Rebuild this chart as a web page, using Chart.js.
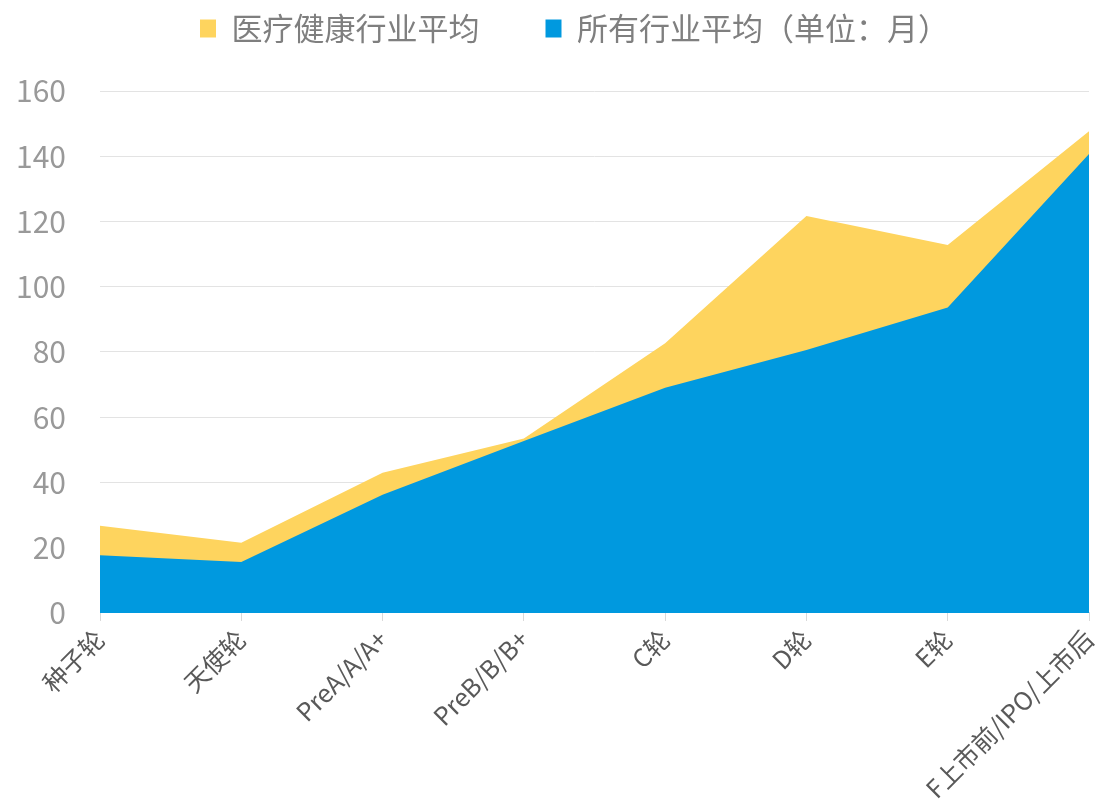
<!DOCTYPE html>
<html>
<head>
<meta charset="utf-8">
<script src="https://cdn.jsdelivr.net/npm/chart.js@4/dist/chart.umd.min.js"></script>
<style>
  html, body { margin: 0; padding: 0; background: #fff; }
  #wrap { width: 1097px; height: 807px; }
</style>
</head>
<body>
<div id="wrap"><canvas id="myChart"></canvas></div>
<script>
let labels = ['种子轮', '天使轮', 'PreA/A/A+', 'PreB/B/B+', 'C轮', 'D轮', 'E轮', 'F上市前/IPO/上市后']
let healthAvg = [26.7, 21.5, 43, 53.5, 82.7, 121.7, 112.8, 147.7]
let allAvg = [17.7, 15.6, 36.2, 52.7, 69, 80.6, 93.6, 140.7]
let seriesNames = ['医疗健康行业平均', '所有行业平均（单位：月）']
let colorHex = ['#FED45E', '#0099DF']

let fontFamily = '"Noto Sans CJK SC", "Noto Sans", sans-serif'
let ctx = document.getElementById('myChart').getContext('2d');

// legend: wide gap between items but sitting close to the top
let legendPlacement = {
    id: 'legendPlacement',
    beforeInit: (chart) => {
        let legend = chart.legend
        let fit = legend.fit
        legend.fit = function () {
            fit.call(this)
            this.height = 91
        }
        legend.draw = function () {
            if (!this.options.display) return
            let c = this.ctx
            c.save()
            c.translate(26, -53)
            this._draw()
            c.restore()
        }
    }
}

let myChart = new Chart(ctx, {
    type: 'line',
    data: {
        labels: labels,
        datasets: [{
            label: seriesNames[0],
            data: healthAvg,
            backgroundColor: colorHex[0],
            borderColor: colorHex[0],
            borderWidth: 0,
            pointRadius: 0,
            fill: 'origin',
            order: 1
        }, {
            label: seriesNames[1],
            data: allAvg,
            backgroundColor: colorHex[1],
            borderColor: colorHex[1],
            borderWidth: 0,
            pointRadius: 0,
            fill: 'origin',
            order: 0
        }]
    },
    plugins: [legendPlacement],
    options: {
        responsive: true,
        maintainAspectRatio: false,
        animation: false,
        layout: {
            padding: { left: 8, right: 8, top: 0, bottom: 0 }
        },
        plugins: {
            tooltip: { enabled: false },
            legend: {
                position: 'top',
                labels: {
                    color: '#7f7f7f',
                    boxWidth: 16,
                    boxHeight: 18,
                    padding: 66,
                    font: { family: fontFamily, size: 31 },
                    sort: (a, b) => a.datasetIndex - b.datasetIndex
                }
            }
        },
        scales: {
            x: {
                offset: false,
                afterFit: (scale) => {
                    scale.paddingLeft = 0
                    scale.paddingRight = 0
                },
                grid: {
                    display: true,
                    drawOnChartArea: false,
                    drawTicks: true,
                    tickLength: 8,
                    color: '#d9d9d9'
                },
                border: { display: true, color: '#d9d9d9' },
                ticks: {
                    color: '#595959',
                    minRotation: 45,
                    maxRotation: 45,
                    padding: 3,
                    font: { family: fontFamily, size: 25 }
                }
            },
            y: {
                min: 0,
                max: 160,
                afterFit: (scale) => {
                    scale.width = 92
                },
                grid: {
                    color: '#e3e3e3',
                    drawTicks: false
                },
                border: { display: false },
                ticks: {
                    stepSize: 20,
                    color: '#999999',
                    padding: 34,
                    font: { family: fontFamily, size: 30 }
                }
            }
        }
    }
})
</script>
</body>
</html>
